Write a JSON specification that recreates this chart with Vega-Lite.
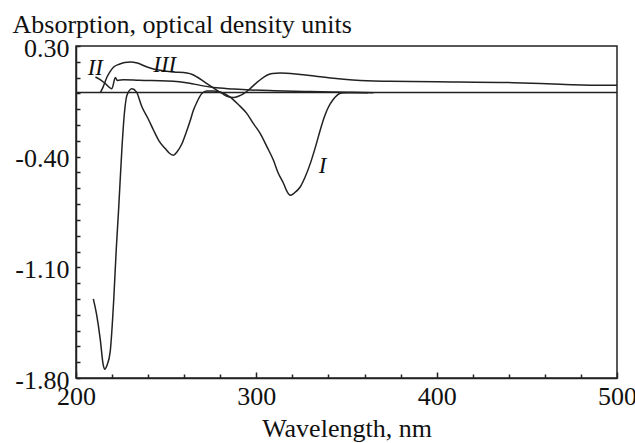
{
  "$schema": "https://vega.github.io/schema/vega-lite/v6.json",
  "width": 541,
  "height": 332,
  "autosize": "none",
  "padding": {"left": 76, "top": 46, "right": 18, "bottom": 65},
  "background": "white",
  "config": {
    "view": {"stroke": "#222", "strokeWidth": 1.5},
    "font": "Liberation Serif",
    "axis": {
      "grid": false,
      "domainColor": "#222",
      "domainWidth": 1.5,
      "tickColor": "#222",
      "tickWidth": 1.5,
      "tickSize": -4,
      "labelColor": "#111",
      "labelFont": "Liberation Serif",
      "labelFontSize": 26,
      "labelOverlap": false,
      "labelFlush": false,
      "titleFont": "Liberation Serif",
      "titleFontSize": 26,
      "titleFontWeight": "normal",
      "titleColor": "#111"
    }
  },
  "datasets": {
    "curves": [
      {"series": "I", "wl": 209.6, "abs": -1.30},
      {"series": "I", "wl": 211.6, "abs": -1.41},
      {"series": "I", "wl": 213.5, "abs": -1.56},
      {"series": "I", "wl": 215, "abs": -1.71},
      {"series": "I", "wl": 215.9, "abs": -1.745},
      {"series": "I", "wl": 217.2, "abs": -1.72},
      {"series": "I", "wl": 219, "abs": -1.63},
      {"series": "I", "wl": 220.9, "abs": -1.31},
      {"series": "I", "wl": 222.3, "abs": -0.99},
      {"series": "I", "wl": 223.6, "abs": -0.74},
      {"series": "I", "wl": 225.5, "abs": -0.34},
      {"series": "I", "wl": 226.8, "abs": -0.13},
      {"series": "I", "wl": 228.3, "abs": -0.01},
      {"series": "I", "wl": 231, "abs": 0.03},
      {"series": "I", "wl": 233.5, "abs": 0.01},
      {"series": "I", "wl": 236.6, "abs": -0.086},
      {"series": "I", "wl": 240, "abs": -0.16},
      {"series": "I", "wl": 243, "abs": -0.233},
      {"series": "I", "wl": 246, "abs": -0.30},
      {"series": "I", "wl": 249.5, "abs": -0.349},
      {"series": "I", "wl": 252, "abs": -0.38},
      {"series": "I", "wl": 254.1, "abs": -0.391},
      {"series": "I", "wl": 256, "abs": -0.37},
      {"series": "I", "wl": 258.8, "abs": -0.317},
      {"series": "I", "wl": 261, "abs": -0.25},
      {"series": "I", "wl": 263.4, "abs": -0.17},
      {"series": "I", "wl": 265, "abs": -0.11},
      {"series": "I", "wl": 267.1, "abs": -0.054},
      {"series": "I", "wl": 269.8, "abs": -0.001},
      {"series": "I", "wl": 272.6, "abs": 0.015},
      {"series": "I", "wl": 276, "abs": 0.015},
      {"series": "I", "wl": 280, "abs": 0.009},
      {"series": "I", "wl": 285.5, "abs": -0.023},
      {"series": "I", "wl": 290, "abs": -0.07},
      {"series": "I", "wl": 294.8, "abs": -0.128},
      {"series": "I", "wl": 298, "abs": -0.185},
      {"series": "I", "wl": 302.2, "abs": -0.254},
      {"series": "I", "wl": 306, "abs": -0.34},
      {"series": "I", "wl": 309.5, "abs": -0.423},
      {"series": "I", "wl": 312, "abs": -0.50},
      {"series": "I", "wl": 315.1, "abs": -0.57},
      {"series": "I", "wl": 317, "abs": -0.62},
      {"series": "I", "wl": 318.8, "abs": -0.644},
      {"series": "I", "wl": 321, "abs": -0.63},
      {"series": "I", "wl": 324.3, "abs": -0.592},
      {"series": "I", "wl": 327, "abs": -0.53},
      {"series": "I", "wl": 329.9, "abs": -0.444},
      {"series": "I", "wl": 333, "abs": -0.33},
      {"series": "I", "wl": 335.4, "abs": -0.233},
      {"series": "I", "wl": 338, "abs": -0.14},
      {"series": "I", "wl": 340, "abs": -0.086},
      {"series": "I", "wl": 342.5, "abs": -0.04},
      {"series": "I", "wl": 344.7, "abs": -0.012},
      {"series": "I", "wl": 347, "abs": 0.002},
      {"series": "I", "wl": 350, "abs": 0.005},
      {"series": "I", "wl": 362, "abs": 0.004},
      {"series": "II", "wl": 210.8, "abs": 0.104},
      {"series": "II", "wl": 213, "abs": 0.09},
      {"series": "II", "wl": 216, "abs": 0.065},
      {"series": "II", "wl": 219.9, "abs": 0.03},
      {"series": "II", "wl": 221.8, "abs": 0.1},
      {"series": "II", "wl": 223, "abs": 0.082},
      {"series": "II", "wl": 226.4, "abs": 0.087},
      {"series": "II", "wl": 235, "abs": 0.083},
      {"series": "II", "wl": 250.4, "abs": 0.079},
      {"series": "II", "wl": 263, "abs": 0.065},
      {"series": "II", "wl": 268.9, "abs": 0.051},
      {"series": "II", "wl": 276.3, "abs": 0.037},
      {"series": "II", "wl": 287.4, "abs": 0.028},
      {"series": "II", "wl": 296.6, "abs": 0.022},
      {"series": "II", "wl": 310, "abs": 0.017},
      {"series": "II", "wl": 330, "abs": 0.012},
      {"series": "II", "wl": 350, "abs": 0.008},
      {"series": "II", "wl": 365, "abs": 0.004},
      {"series": "III", "wl": 213.5, "abs": 0.005},
      {"series": "III", "wl": 215, "abs": 0.04},
      {"series": "III", "wl": 217.2, "abs": 0.104},
      {"series": "III", "wl": 219, "abs": 0.14},
      {"series": "III", "wl": 220.9, "abs": 0.167},
      {"series": "III", "wl": 224, "abs": 0.185},
      {"series": "III", "wl": 227, "abs": 0.195},
      {"series": "III", "wl": 230.1, "abs": 0.199},
      {"series": "III", "wl": 234, "abs": 0.192},
      {"series": "III", "wl": 239.4, "abs": 0.167},
      {"series": "III", "wl": 243, "abs": 0.155},
      {"series": "III", "wl": 246.7, "abs": 0.146},
      {"series": "III", "wl": 254.1, "abs": 0.136},
      {"series": "III", "wl": 261.5, "abs": 0.129},
      {"series": "III", "wl": 264.5, "abs": 0.12},
      {"series": "III", "wl": 267.1, "abs": 0.104},
      {"series": "III", "wl": 270, "abs": 0.083},
      {"series": "III", "wl": 272.6, "abs": 0.062},
      {"series": "III", "wl": 275.5, "abs": 0.04},
      {"series": "III", "wl": 278.2, "abs": 0.02},
      {"series": "III", "wl": 281, "abs": 0.0},
      {"series": "III", "wl": 283.7, "abs": -0.018},
      {"series": "III", "wl": 287.4, "abs": -0.026},
      {"series": "III", "wl": 290, "abs": -0.018},
      {"series": "III", "wl": 293, "abs": -0.001},
      {"series": "III", "wl": 296, "abs": 0.025},
      {"series": "III", "wl": 298.5, "abs": 0.051},
      {"series": "III", "wl": 302, "abs": 0.085},
      {"series": "III", "wl": 305.9, "abs": 0.115},
      {"series": "III", "wl": 309, "abs": 0.126},
      {"series": "III", "wl": 313.2, "abs": 0.129},
      {"series": "III", "wl": 324.3, "abs": 0.12},
      {"series": "III", "wl": 342.8, "abs": 0.096},
      {"series": "III", "wl": 361.3, "abs": 0.08},
      {"series": "III", "wl": 374.2, "abs": 0.077},
      {"series": "III", "wl": 400, "abs": 0.074},
      {"series": "III", "wl": 442.6, "abs": 0.068},
      {"series": "III", "wl": 468.5, "abs": 0.058},
      {"series": "III", "wl": 492.5, "abs": 0.051},
      {"series": "III", "wl": 500, "abs": 0.051},
      {"series": "baseline", "wl": 200, "abs": 0.006},
      {"series": "baseline", "wl": 500, "abs": 0.006}
    ],
    "labels": [
      {"label": "I", "wl": 336.8, "abs": -0.461},
      {"label": "II", "wl": 210.7, "abs": 0.159},
      {"label": "III", "wl": 249.2, "abs": 0.181}
    ]
  },
  "resolve": {"axis": {"x": "independent", "y": "independent"}},
  "layer": [
    {
      "data": {"name": "curves"},
      "mark": {"type": "line", "color": "#222", "strokeWidth": 1.5, "interpolate": "monotone"},
      "encoding": {
        "x": {
          "field": "wl",
          "type": "quantitative",
          "scale": {"domain": [200, 500], "nice": false, "zero": false},
          "axis": {
            "orient": "bottom",
            "values": [200, 300, 400, 500],
            "format": "d",
            "tickSize": -6,
            "labelBaseline": "alphabetic",
            "labelPadding": 32,
            "title": "Wavelength, nm",
            "titleX": 270.5,
            "titleY": 58,
            "titleBaseline": "alphabetic"
          }
        },
        "y": {
          "field": "abs",
          "type": "quantitative",
          "scale": {"domain": [-1.8, 0.3], "nice": false, "zero": false},
          "axis": {
            "orient": "left",
            "values": [0.3, -0.4, -1.1, -1.8],
            "labelExpr": "(datum.value < 0 ? '-' : '') + format(abs(datum.value), '.2f')",
            "labelBaseline": "middle",
            "labelOffset": 2,
            "labelPadding": 11,
            "title": "Absorption, optical density units",
            "titleAngle": 0,
            "titleAlign": "left",
            "titleBaseline": "alphabetic",
            "titleX": -64,
            "titleY": -14
          }
        },
        "detail": {"field": "series", "type": "nominal"}
      }
    },
    {
      "data": {"name": "labels"},
      "mark": {"type": "text", "font": "Liberation Serif", "fontStyle": "italic", "fontSize": 23, "color": "#111", "align": "center", "baseline": "middle"},
      "encoding": {
        "x": {
          "field": "wl",
          "type": "quantitative",
          "axis": {
            "orient": "bottom",
            "values": [220, 240, 260, 280, 320, 340, 360, 380, 420, 440, 460, 480],
            "labels": false,
            "domain": false,
            "title": null
          }
        },
        "y": {
          "field": "abs",
          "type": "quantitative",
          "axis": {
            "orient": "left",
            "values": [0.2, 0.1, 0, -0.1, -0.2, -0.3, -0.5, -0.6, -0.7, -0.8, -0.9, -1, -1.2, -1.3, -1.4, -1.5, -1.6, -1.7],
            "labels": false,
            "domain": false,
            "title": null
          }
        },
        "text": {"field": "label", "type": "nominal"}
      }
    }
  ]
}
